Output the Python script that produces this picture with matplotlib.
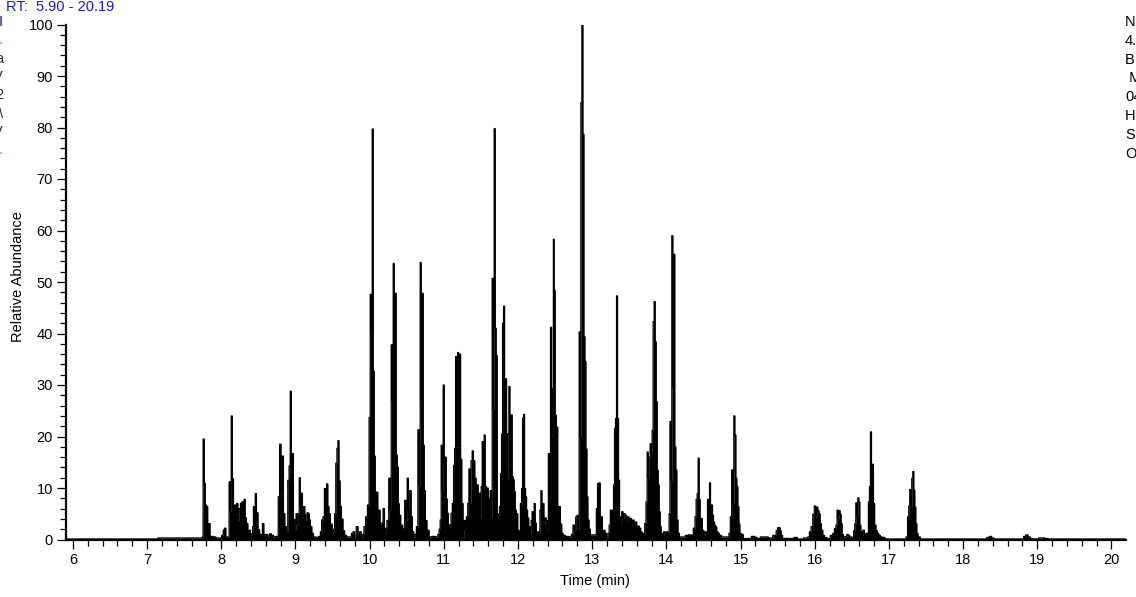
import numpy as np
import matplotlib
matplotlib.use("Agg")
import matplotlib.pyplot as plt
from matplotlib.ticker import MultipleLocator

plt.rcParams['font.family'] = ['Liberation Sans', 'DejaVu Sans']

# ---------------- data (retention time in min, relative abundance in %) ----------------
rt1 = [5.90, 7.14, 7.15, 7.74, 7.746, 7.764, 7.777, 7.791, 7.810, 7.823,
       7.841, 7.854, 7.877, 7.908, 7.944, 7.989, 8.020, 8.033, 8.052, 8.070,
       8.097, 8.114, 8.128, 8.141, 8.155, 8.174, 8.187, 8.201, 8.214, 8.232,
       8.249, 8.268, 8.286, 8.303, 8.312, 8.330, 8.349, 8.366, 8.384, 8.403,
       8.416, 8.430, 8.438, 8.451, 8.465, 8.484, 8.505, 8.528, 8.546, 8.564,
       8.582, 8.609, 8.636, 8.663, 8.690, 8.717, 8.744, 8.761, 8.775, 8.798,
       8.811, 8.829, 8.847, 8.865, 8.888, 8.905, 8.923, 8.936, 8.950, 8.963,
       8.982, 9.000, 9.017, 9.031, 9.044, 9.058, 9.071, 9.085, 9.103, 9.117,
       9.134, 9.148, 9.166, 9.179, 9.193, 9.211, 9.229, 9.256, 9.292, 9.327,
       9.346, 9.360, 9.381, 9.400, 9.413, 9.427, 9.444, 9.458, 9.481, 9.508,
       9.521, 9.535, 9.552, 9.566, 9.579, 9.593, 9.610, 9.629, 9.651, 9.674,
       9.705, 9.741, 9.768, 9.786, 9.808, 9.831, 9.853, 9.876, 9.899]
ab1 = [0.1, 0.1, 0.3, 0.3, 0.5, 19.5, 10.9, 6.7, 6.4, 3.1,
       3.1, 0.4, 0.6, 0.5, 0.3, 0.3, 0.8, 1.8, 2.2, 0.4,
       0.5, 11.2, 5.5, 24.0, 11.8, 5.0, 6.7, 4.0, 7.0, 3.8,
       6.0, 7.0, 7.3, 5.9, 7.8, 4.2, 3.1, 1.5, 1.8, 0.9,
       1.1, 2.5, 6.4, 5.2, 8.9, 5.2, 1.9, 1.0, 0.8, 3.1,
       0.9, 1.0, 0.7, 1.1, 0.8, 0.5, 0.6, 0.5, 8.3, 18.5,
       8.9, 16.2, 5.0, 2.5, 1.5, 11.5, 14.3, 28.8, 8.5, 16.7,
       3.9, 2.0, 5.0, 3.0, 5.0, 12.0, 6.6, 9.0, 4.4, 6.4,
       3.8, 4.8, 5.2, 5.0, 3.8, 2.5, 1.2, 0.5, 0.4, 0.6,
       1.5, 3.8, 4.4, 9.9, 6.6, 10.8, 6.4, 5.0, 3.0, 1.5,
       2.0, 5.0, 14.8, 17.7, 19.2, 11.4, 6.4, 4.0, 1.7, 0.8,
       0.5, 0.5, 1.2, 1.5, 0.7, 2.5, 1.0, 1.5, 0.5]

rt2 = [9.912, 9.934, 9.957, 9.984, 10.001, 10.015, 10.028, 10.041, 10.055, 10.068,
       10.082, 10.101, 10.118, 10.132, 10.149, 10.172, 10.190, 10.209, 10.222, 10.244,
       10.271, 10.284, 10.298, 10.311, 10.325, 10.338, 10.351, 10.365, 10.378, 10.392,
       10.405, 10.432, 10.459, 10.486, 10.500, 10.513, 10.532, 10.550, 10.567, 10.586,
       10.603, 10.621, 10.640, 10.661, 10.675, 10.688, 10.702, 10.715, 10.729, 10.742,
       10.761, 10.783, 10.819, 10.864, 10.909, 10.931, 10.944, 10.958, 10.971, 10.985,
       10.998, 11.012, 11.025, 11.039, 11.052, 11.071, 11.089, 11.106, 11.125, 11.139,
       11.152, 11.166, 11.179, 11.192, 11.206, 11.219, 11.233, 11.250, 11.268, 11.281,
       11.295, 11.314, 11.331, 11.345, 11.358, 11.376, 11.389, 11.408, 11.426, 11.443,
       11.457, 11.470, 11.484, 11.497, 11.511, 11.524, 11.537, 11.551, 11.564, 11.578,
       11.591, 11.605, 11.618, 11.632, 11.645, 11.659, 11.672, 11.686, 11.699, 11.713,
       11.726, 11.744, 11.758, 11.772, 11.785, 11.799, 11.812, 11.826, 11.839, 11.853,
       11.870, 11.884, 11.897, 11.915, 11.928, 11.942, 11.955, 11.969, 11.987, 12.005,
       12.023, 12.042, 12.055, 12.069, 12.082, 12.095, 12.109, 12.122, 12.136, 12.153,
       12.171, 12.184, 12.198, 12.211, 12.225, 12.238, 12.257, 12.271, 12.288, 12.302,
       12.315, 12.329, 12.342, 12.356, 12.373, 12.387, 12.400, 12.419, 12.432, 12.446,
       12.459, 12.473, 12.481, 12.494, 12.508, 12.527, 12.544, 12.562]
ab2 = [1.0, 2.5, 4.4, 6.7, 23.7, 47.6, 40.0, 79.7, 32.7, 16.2,
       9.0, 9.2, 4.4, 5.7, 3.0, 3.2, 6.0, 1.1, 2.2, 3.7,
       11.9, 5.8, 37.8, 27.0, 53.6, 23.8, 47.8, 16.4, 14.1, 7.0,
       4.7, 2.8, 2.1, 7.6, 3.7, 11.9, 5.8, 9.5, 4.4, 1.5,
       0.5, 1.0, 2.5, 21.3, 10.6, 53.8, 27.0, 47.8, 18.3, 9.5,
       3.7, 1.8, 0.5, 0.6, 0.5, 1.0, 2.0, 3.8, 18.3, 9.5,
       30.0, 14.7, 16.0, 7.9, 5.1, 2.5, 2.9, 5.1, 7.0, 14.4,
       17.7, 35.5, 18.0, 36.3, 18.0, 36.0, 15.6, 7.0, 0.5, 3.7,
       2.0, 4.4, 7.0, 13.7, 7.0, 15.3, 17.2, 15.3, 11.9, 5.7,
       10.6, 5.0, 9.0, 4.4, 10.3, 19.0, 9.7, 20.3, 10.3, 9.0,
       10.0, 8.0, 4.4, 9.5, 4.4, 50.7, 25.3, 79.8, 41.0, 35.7,
       4.4, 5.0, 6.4, 12.8, 20.5, 42.0, 45.3, 22.5, 31.2, 11.9,
       20.5, 29.7, 14.7, 24.2, 12.2, 11.6, 9.3, 5.7, 5.0, 1.8,
       1.2, 7.0, 9.9, 23.6, 24.3, 9.9, 8.3, 5.7, 4.2, 2.5,
       1.2, 3.7, 5.4, 3.5, 7.0, 3.2, 1.2, 1.5, 1.2, 5.7,
       9.5, 4.4, 7.0, 3.1, 4.2, 3.7, 2.0, 16.7, 8.3, 41.2,
       20.3, 29.2, 58.3, 48.4, 24.1, 21.8, 6.4, 6.4]

rt3 = [12.581, 12.598, 12.616, 12.661, 12.706, 12.733, 12.750, 12.769, 12.787, 12.804,
       12.818, 12.831, 12.841, 12.854, 12.868, 12.881, 12.895, 12.908, 12.922, 12.935,
       12.948, 12.966, 12.985, 13.020, 13.047, 13.066, 13.079, 13.093, 13.101, 13.115,
       13.128, 13.147, 13.164, 13.182, 13.201, 13.222, 13.236, 13.254, 13.268, 13.281,
       13.295, 13.308, 13.322, 13.335, 13.349, 13.362, 13.376, 13.389, 13.407, 13.424,
       13.438, 13.456, 13.474, 13.488, 13.505, 13.519, 13.537, 13.555, 13.572, 13.591,
       13.609, 13.626, 13.645, 13.663, 13.680, 13.699, 13.717, 13.734, 13.748, 13.761,
       13.775, 13.788, 13.802, 13.815, 13.829, 13.842, 13.856, 13.869, 13.883, 13.896,
       13.909, 13.923, 13.936, 13.955, 13.973, 13.990, 14.009, 14.031, 14.044, 14.053,
       14.067, 14.080, 14.094, 14.107, 14.120, 14.134, 14.148, 14.165, 14.188, 14.233,
       14.279, 14.323, 14.350, 14.377, 14.395, 14.408, 14.422, 14.435, 14.449, 14.462,
       14.476, 14.494, 14.512, 14.529, 14.548, 14.562, 14.575, 14.589, 14.602, 14.616,
       14.629, 14.643, 14.656, 14.670, 14.687, 14.705, 14.727, 14.764, 14.799, 14.835,
       14.853, 14.872, 14.889, 14.903, 14.916, 14.930, 14.943, 14.957, 14.970, 14.984]
ab3 = [3.0, 1.2, 0.8, 0.6, 0.5, 1.0, 2.8, 1.8, 4.4, 4.7,
       2.2, 40.3, 20.0, 84.8, 100.0, 78.7, 39.4, 34.6, 17.6, 8.3,
       3.8, 2.0, 0.9, 0.9, 0.9, 6.0, 10.9, 2.8, 11.0, 2.0,
       4.4, 1.5, 1.8, 1.2, 0.5, 1.2, 2.8, 5.7, 3.1, 5.7,
       10.6, 21.6, 23.5, 47.3, 23.5, 11.5, 4.4, 3.4, 5.4, 4.1,
       5.0, 4.7, 3.8, 4.4, 3.1, 4.1, 2.8, 3.8, 2.8, 3.4,
       2.5, 2.6, 2.2, 1.5, 1.2, 0.8, 3.1, 7.3, 17.0, 12.0,
       16.0, 18.6, 16.7, 21.2, 42.3, 46.2, 38.4, 26.8, 13.5, 10.6,
       5.4, 2.5, 1.2, 0.8, 1.5, 1.2, 1.5, 1.2, 5.0, 22.9,
       11.5, 59.0, 29.6, 55.4, 18.0, 13.5, 3.8, 1.2, 0.5, 0.5,
       0.8, 0.9, 0.8, 2.2, 4.4, 7.8, 8.9, 15.8, 7.8, 2.5,
       4.1, 1.8, 0.8, 1.5, 1.2, 7.8, 5.4, 11.0, 6.0, 6.7,
       4.7, 3.4, 2.8, 2.5, 1.5, 1.2, 0.8, 0.5, 0.5, 0.5,
       1.2, 4.4, 13.5, 7.0, 24.0, 20.3, 11.9, 10.3, 6.4, 3.0]

rt4 = [14.997, 15.020, 15.051, 15.109, 15.186, 15.203, 15.244, 15.289, 15.347, 15.401,
       15.469, 15.492, 15.505, 15.527, 15.540, 15.553, 15.580, 15.715, 15.729, 15.806,
       15.896, 15.918, 15.940, 15.963, 15.985, 16.004, 16.021, 16.035, 16.048, 16.066,
       16.079, 16.098, 16.120, 16.143, 16.187, 16.233, 16.255, 16.277, 16.295, 16.308,
       16.322, 16.335, 16.349, 16.362, 16.376, 16.399, 16.426, 16.443, 16.462, 16.480,
       16.516, 16.533, 16.547, 16.561, 16.574, 16.588, 16.601, 16.614, 16.628, 16.641,
       16.659, 16.682, 16.699, 16.718, 16.731, 16.745, 16.759, 16.772, 16.785, 16.799,
       16.816, 16.834, 16.853, 16.874, 16.897, 16.920, 16.974, 17.221, 17.243, 17.261,
       17.275, 17.288, 17.302, 17.315, 17.329, 17.342, 17.356, 17.369, 17.383, 17.400,
       17.446, 18.30, 18.34, 18.37, 18.40, 18.43, 18.80, 18.83, 18.86, 18.89,
       18.92, 18.96, 19.08, 19.12, 19.16, 20.19]
ab4 = [1.2, 1.0, 0.2, 0.2, 0.6, 0.4, 0.2, 0.5, 0.5, 0.3,
       0.8, 1.7, 2.3, 2.3, 1.7, 0.8, 0.2, 0.2, 0.4, 0.1,
       0.3, 0.5, 1.5, 2.5, 4.9, 6.5, 4.4, 6.3, 5.6, 5.0,
       3.1, 1.8, 0.8, 0.4, 0.2, 0.8, 1.2, 2.1, 2.8, 5.7,
       4.1, 5.6, 4.9, 3.1, 1.0, 0.5, 0.6, 1.0, 0.8, 0.5,
       0.4, 1.7, 3.1, 7.1, 4.5, 8.1, 7.3, 2.8, 1.5, 0.8,
       1.8, 0.8, 1.2, 0.6, 7.3, 10.3, 20.9, 14.1, 14.6, 7.0,
       2.8, 1.7, 1.2, 0.8, 0.5, 0.4, 0.1, 0.1, 0.5, 4.4,
       6.5, 9.7, 6.5, 11.9, 13.2, 9.6, 6.3, 3.1, 1.2, 0.5,
       0.1, 0.1, 0.4, 0.6, 0.3, 0.1, 0.1, 0.6, 0.9, 0.5,
       0.2, 0.1, 0.3, 0.2, 0.1, 0.1]

x_range = (5.90, 20.19)
x_major = [6, 7, 8, 9, 10, 11, 12, 13, 14, 15, 16, 17, 18, 19, 20]
y_major = [0, 10, 20, 30, 40, 50, 60, 70, 80, 90, 100]

header_left = "RT:  5.90 - 20.19"
info_right = ["N", "4.", "B", " M", "04", "H", "S", "O"]
clip_left = ["I", ".", "a", "V", "2", "\\", "V", "."]

# ---------------- figure ----------------
W, H = 1136, 597
FS = 10.5
fig = plt.figure(figsize=(W / 100, H / 100), dpi=100)
fig.patch.set_facecolor("white")
ax = fig.add_axes([65.5 / W, 1 - 539.5 / H, (1125.5 - 65.5) / W, (539.5 - 24.5) / H])

rt = np.concatenate([rt1, rt2, rt3, rt4])
ab = np.concatenate([ab1, ab2, ab3, ab4])

ax.fill_between(rt, 0, ab, step="mid", color="black", linewidth=0)
ax.step(rt, ab, where="mid", color="black", linewidth=0.9)

ax.set_xlim(*x_range)
ax.set_ylim(0, 100)

for s in ("top", "right"):
    ax.spines[s].set_visible(False)
for s in ("left", "bottom"):
    ax.spines[s].set_linewidth(1.6)
    ax.spines[s].set_color("black")

ax.set_xticks(x_major)
ax.set_yticks(y_major)
ax.xaxis.set_minor_locator(MultipleLocator(0.2))
ax.yaxis.set_minor_locator(MultipleLocator(2))
ax.tick_params(axis="both", which="major", direction="out", length=6.5, width=0.9,
               labelsize=FS, colors="black", pad=2.5)
ax.tick_params(axis="both", which="minor", direction="out", length=4, width=0.9)
ax.tick_params(axis="x", which="major", pad=3.5)

fig.text(18 / W, 1 - 277 / H, "Relative Abundance", rotation=90, ha="center", va="center", fontsize=FS)
fig.text(595 / W, 1 - 581 / H, "Time (min)", ha="center", va="center", fontsize=FS)

fig.text(6 / W, 1 - 7 / H, header_left, ha="left", va="center", fontsize=FS, color="#1c1cc0")

for i, s in enumerate(info_right):
    fig.text(1125 / W, 1 - (22 + i * 18.8) / H, s, ha="left", va="center", fontsize=FS, color="black")

left_cols = ["#1a1a80", "#3aa0ff", "#303030", "#303030", "#303030", "#303030", "#303030", "#3aa0ff"]
for i, (s, c) in enumerate(zip(clip_left, left_cols)):
    fig.text(3 / W, 1 - (22 + i * 18.3) / H, s, ha="right", va="center", fontsize=FS, color=c)

fig.savefig("out.png", dpi=100)
